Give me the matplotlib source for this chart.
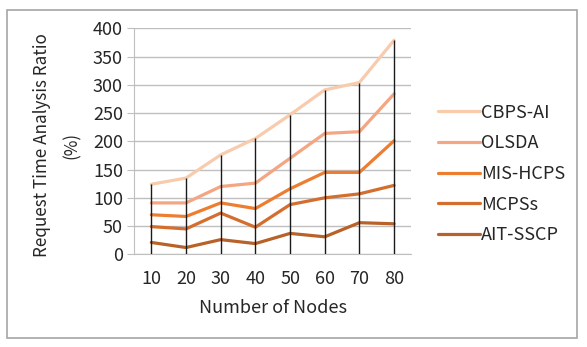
import matplotlib
matplotlib.use("Agg")
import matplotlib.pyplot as plt
from matplotlib.patches import Rectangle

plt.rcParams['font.family'] = ['Noto Sans CJK SC', 'DejaVu Sans']

# data
nodes = ['10', '20', '30', '40', '50', '60', '70', '80']
cbps_ai = [124, 135, 176, 205, 247, 291, 304, 379]
olsda = [91, 91, 120, 126, 170, 214, 217, 284]
mis_hcps = [70, 67, 91, 81, 116, 145, 145, 201]
mcpss = [49, 45, 73, 48, 88, 100, 107, 122]
ait_sscp = [21, 12, 26, 19, 37, 31, 56, 54]

series = [
    ('CBPS-AI', cbps_ai, '#F8CBAD'),
    ('OLSDA', olsda, '#F4A582'),
    ('MIS-HCPS', mis_hcps, '#ED7D31'),
    ('MCPSs', mcpss, '#D46E2E'),
    ('AIT-SSCP', ait_sscp, '#B8622A'),
]

TXT = '#262626'
FS = 13

fig = plt.figure(figsize=(5.87, 3.47), dpi=100)
ax = fig.add_axes([0.2283, 0.2671, 0.4726, 0.6513])

x = list(range(len(nodes)))

for name, vals, col in series:
    ax.plot(x, vals, color=col, lw=2.3, label=name, zorder=3,
            solid_capstyle='round')

# drop lines from the highest series down to the axis
tops = [max(v) for v in zip(*[s[1] for s in series])]
ax.vlines(x, 0, tops, color='#1a1a1a', lw=1.0, zorder=4)

ax.set_xlim(-0.5, len(nodes) - 0.5)
ax.set_ylim(0, 400)
ax.set_yticks(range(0, 401, 50))
ax.set_xticks(x)
ax.set_xticklabels(nodes)

ax.grid(axis='y', color='#BFBFBF', lw=1.0, zorder=0)
for s in ['top', 'right']:
    ax.spines[s].set_visible(False)
ax.spines['left'].set_color('#BFBFBF')
ax.spines['bottom'].set_color('#BFBFBF')
ax.tick_params(axis='y', length=5, color='#BFBFBF', labelsize=FS,
               labelcolor=TXT, pad=3)
ax.tick_params(axis='x', length=0, labelsize=FS, labelcolor=TXT, pad=11)

ax.set_xlabel('Number of Nodes', fontsize=FS, color=TXT, labelpad=8)
fig.text(42 / 587, 1 - 145 / 347, 'Request Time Analysis Ratio', rotation=90,
         ha='center', va='center', fontsize=12.3, color=TXT)
fig.text(72 / 587, 1 - 145 / 347, '(%)', rotation=90,
         ha='center', va='center', fontsize=12.3, color=TXT)

leg = ax.legend(loc='center left', bbox_to_anchor=(1.07, 0.355), frameon=False,
                fontsize=FS, handlelength=2.3, handletextpad=0.1,
                labelspacing=0.7, borderaxespad=0)
for t in leg.get_texts():
    t.set_color(TXT)

# chart area border
fig.patches.append(Rectangle((7 / 587, 1 - 338 / 347), 570 / 587, 328 / 347,
                             transform=fig.transFigure, fill=False,
                             edgecolor='#A6A6A6', lw=1.2))

fig.savefig('out.png', dpi=100)
